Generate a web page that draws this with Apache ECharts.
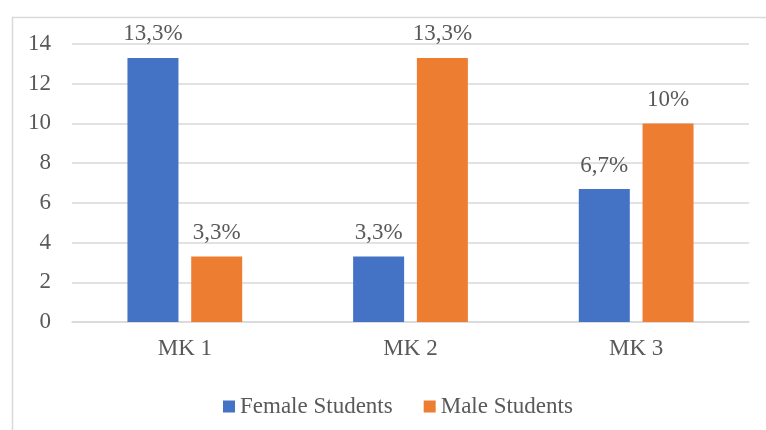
<!DOCTYPE html>
<html>
<head>
<meta charset="utf-8">
<script src="https://cdn.jsdelivr.net/npm/echarts@6/dist/echarts.min.js"></script>
<style>
  html, body { margin: 0; padding: 0; background: #ffffff; }
  #chart { width: 766px; height: 430px; }
</style>
</head>
<body>
<div id="chart"></div>
<script>
// Categories and values for the grouped bars
const categories = ['MK 1', 'MK 2', 'MK 3'];
const femaleValues = [13.3, 3.3, 6.7];
const maleValues = [3.3, 13.3, 10];
const seriesNames = ['Female Students', 'Male Students'];
const yTicks = { min: 0, max: 14, interval: 2 };

const FONT = 'Liberation Serif';
const TEXT = '#595959';
const GRID = '#d9d9d9';

// Values shown with a decimal comma and a percent sign
const pct = p => String(p.value).replace('.', ',') + '%';

const chart = echarts.init(document.getElementById('chart'), null, { renderer: 'canvas' });

const barLabel = {
  show: true,
  position: 'top',
  distance: 12,
  formatter: pct,
  color: TEXT,
  fontFamily: FONT,
  fontSize: 23
};

chart.setOption({
  animation: false,
  backgroundColor: '#ffffff',
  textStyle: { fontFamily: FONT },
  graphic: [{
    type: 'rect',
    left: 10,
    top: 15,
    shape: { width: 800, height: 500 },
    style: { fill: 'none', stroke: GRID, lineWidth: 1.5 },
    silent: true,
    z: -1
  }],
  grid: { left: 72, right: 17, top: 44, bottom: 108, containLabel: false },
  legend: {
    data: seriesNames,
    left: 218,
    top: 390,
    itemWidth: 12,
    itemHeight: 12,
    itemGap: 31,
    icon: 'rect',
    textStyle: { color: TEXT, fontFamily: FONT, fontSize: 23 }
  },
  xAxis: {
    type: 'category',
    data: categories,
    axisLine: { show: true, lineStyle: { color: GRID, width: 1.5 } },
    axisTick: { show: false },
    axisLabel: { color: TEXT, fontFamily: FONT, fontSize: 23, margin: 15 }
  },
  yAxis: {
    type: 'value',
    min: yTicks.min,
    max: yTicks.max,
    interval: yTicks.interval,
    axisLine: { show: false },
    axisTick: { show: false },
    axisLabel: { color: TEXT, fontFamily: FONT, fontSize: 23, margin: 21 },
    splitLine: { lineStyle: { color: GRID, width: 1.5 } }
  },
  series: [
    {
      name: seriesNames[0],
      type: 'bar',
      data: femaleValues,
      barWidth: 51,
      barGap: '25%',
      itemStyle: { color: '#4472C4' },
      label: barLabel
    },
    {
      name: seriesNames[1],
      type: 'bar',
      data: maleValues,
      barWidth: 51,
      barGap: '25%',
      itemStyle: { color: '#ED7D31' },
      label: barLabel
    }
  ]
});
</script>
</body>
</html>
